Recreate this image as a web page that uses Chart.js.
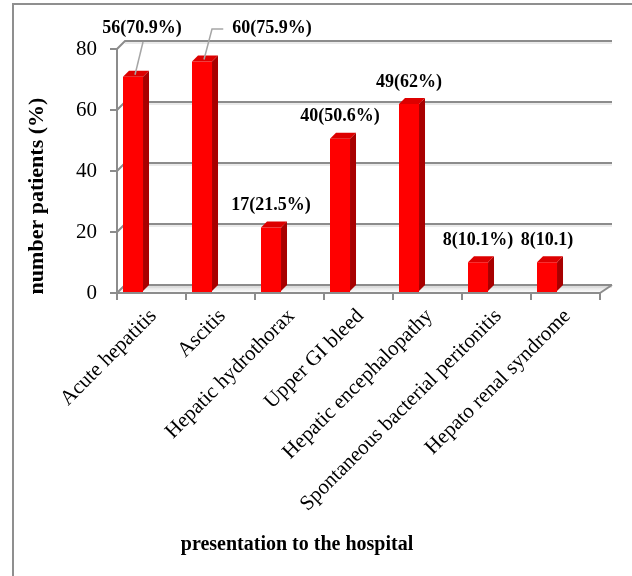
<!DOCTYPE html>
<html><head><meta charset="utf-8">
<script src="https://cdn.jsdelivr.net/npm/chart.js@4"></script>
<style>html,body{margin:0;padding:0;background:#fff}#wrap{width:632px;height:576px}</style>
</head><body><div id="wrap"><canvas id="c" width="632" height="576"></canvas></div>
<script>
const categories = ['Acute hepatitis','Ascitis','Hepatic hydrothorax','Upper GI bleed','Hepatic encephalopathy','Spontaneous bacterial peritonitis','Hepato renal syndrome'];
const percentages = [70.9, 75.9, 21.5, 50.6, 62, 10.1, 10.1];
const counts = [56, 60, 17, 40, 49, 8, 8];
const valueLabels = ['56(70.9%)','60(75.9%)','17(21.5%)','40(50.6%)','49(62%)','8(10.1%)','8(10.1)'];
const yTickValues = [0, 20, 40, 60, 80];
const xTitle = 'presentation to the hospital';
const yTitle = 'number patients (%)';

const SERIF = '"Liberation Serif", "Times New Roman", serif';
const GRID = '#8c8c8c';
const DEPTH_L = 8, DEPTH_R = 12, DEPTH_Y = 8;   // back wall offset
const BAR_D = 6;                                 // bar depth

const threeD = {
  id: 'threeD',
  beforeDraw(chart) {
    const ctx = chart.ctx;
    ctx.save();
    ctx.fillStyle = '#fff';
    ctx.fillRect(0, 0, chart.width, chart.height);
    ctx.strokeStyle = '#8f8f8f';
    ctx.lineWidth = 2;
    ctx.strokeRect(13, 4, chart.width + 20, chart.height + 20);
    ctx.restore();
  },
  beforeDatasetsDraw(chart) {
    const ctx = chart.ctx, ys = chart.scales.y, a = chart.chartArea;
    const L = a.left, R = a.right;
    ctx.save();
    const y0 = ys.getPixelForValue(0);
    const g = ctx.createLinearGradient(0, y0 - DEPTH_Y, 0, y0);
    g.addColorStop(0, '#d9d9d9'); g.addColorStop(1, '#ffffff');
    ctx.fillStyle = g;
    ctx.beginPath();
    ctx.moveTo(L + DEPTH_L, y0 - DEPTH_Y); ctx.lineTo(R + DEPTH_R, y0 - DEPTH_Y);
    ctx.lineTo(R, y0 - 1); ctx.lineTo(L, y0 - 1); ctx.closePath(); ctx.fill();
    yTickValues.forEach(v => {
      const y = ys.getPixelForValue(v);
      ctx.strokeStyle = '#d6d6d6'; ctx.lineWidth = 1;
      ctx.beginPath();
      ctx.moveTo(L + DEPTH_L, y - DEPTH_Y + 2); ctx.lineTo(R + DEPTH_R, y - DEPTH_Y + 2);
      ctx.stroke();
      ctx.strokeStyle = GRID; ctx.lineWidth = 2;
      ctx.beginPath();
      ctx.moveTo(L, y); ctx.lineTo(L + DEPTH_L, y - DEPTH_Y); ctx.lineTo(R + DEPTH_R, y - DEPTH_Y);
      ctx.stroke();
    });
    ctx.beginPath();
    ctx.moveTo(R, y0); ctx.lineTo(R + DEPTH_R, y0 - DEPTH_Y);
    ctx.stroke();
    ctx.restore();
    const xs = chart.scales.x;
    const step = xs.getPixelForValue(1) - xs.getPixelForValue(0);
    chart.$barShift = -0.268 * step;
    ctx.save();
    ctx.translate(chart.$barShift, 0);
  },
  afterDatasetsDraw(chart) {
    const ctx = chart.ctx;
    const meta = chart.getDatasetMeta(0);
    meta.data.forEach(bar => {
      const {x, y, base, width} = bar.getProps(['x', 'y', 'base', 'width'], true);
      const l = x - width / 2, r = x + width / 2;
      ctx.fillStyle = '#a80000';
      ctx.beginPath();
      ctx.moveTo(r, y); ctx.lineTo(r + BAR_D, y - BAR_D); ctx.lineTo(r + BAR_D, base - BAR_D - 1);
      ctx.lineTo(r, base - 1); ctx.closePath(); ctx.fill();
      ctx.fillStyle = '#dd0000';
      ctx.beginPath();
      ctx.moveTo(l, y); ctx.lineTo(l + BAR_D, y - BAR_D); ctx.lineTo(r + BAR_D, y - BAR_D);
      ctx.lineTo(r, y); ctx.closePath(); ctx.fill();
    });
    ctx.restore();
    const shift = chart.$barShift;
    const a = chart.chartArea;
    const callouts = chart.options.plugins.threeD.callouts;
    ctx.save();
    ctx.font = 'bold 18px ' + SERIF;
    ctx.fillStyle = '#000';
    ctx.textAlign = 'center';
    ctx.textBaseline = 'middle';
    meta.data.forEach((bar, i) => {
      const x = bar.x + shift, y = bar.y;
      const c = callouts[i];
      if (c) {
        const lx = x + c.dx, ly = a.top - 21;
        const tw = ctx.measureText(valueLabels[i]).width;
        ctx.strokeStyle = '#a6a6a6'; ctx.lineWidth = 1.5;
        ctx.beginPath();
        ctx.moveTo(x + 2, y - 2);
        if (c.elbow) {
          ctx.lineTo(x + 10, ly + 1); ctx.lineTo(lx - tw / 2 - 9, ly + 1);
        } else {
          ctx.lineTo(x + 10, ly + 14);
        }
        ctx.stroke();
        ctx.fillText(valueLabels[i], lx, ly);
      } else {
        ctx.fillText(valueLabels[i], x, y - 22);
      }
    });
    ctx.restore();
    ctx.save();
    ctx.fillStyle = '#000';
    ctx.font = 'bold 20px ' + SERIF;
    ctx.textAlign = 'center'; ctx.textBaseline = 'middle';
    ctx.fillText(xTitle, 297, 545);
    ctx.translate(37, 196);
    ctx.rotate(-Math.PI / 2);
    ctx.font = 'bold 22px ' + SERIF;
    ctx.fillText(yTitle, 0, 0);
    ctx.restore();
  }
};

new Chart(document.getElementById('c'), {
  type: 'bar',
  data: {
    labels: categories,
    datasets: [{
      label: 'patients (%)',
      data: percentages,
      backgroundColor: '#ff0000',
      borderWidth: 0,
      barPercentage: 0.29,
      categoryPercentage: 1
    }]
  },
  options: {
    responsive: false,
    animation: false,
    devicePixelRatio: 1,
    layout: { padding: { top: 49, right: 32, left: 0, bottom: 0 } },
    plugins: {
      legend: { display: false },
      tooltip: { enabled: false },
      threeD: { callouts: { 0: { dx: 9, elbow: false }, 1: { dx: 70, elbow: true } } }
    },
    scales: {
      x: {
        afterFit(s) { s.height = 283; },
        grid: { offset: true, drawOnChartArea: false, drawTicks: true, tickLength: 7, color: GRID, lineWidth: 2 },
        border: { display: true, color: GRID, width: 2 },
        ticks: { minRotation: 45, maxRotation: 45, autoSkip: false, color: '#000', padding: 4, labelOffset: 2,
                 font: { family: SERIF, size: 21 } }
      },
      y: {
        min: 0, max: 80,
        afterFit(s) { s.width = 117; },
        afterBuildTicks(s) { s.ticks = yTickValues.map(v => ({ value: v })); },
        grid: { drawOnChartArea: false, drawTicks: true, tickLength: 7, color: GRID, lineWidth: 2 },
        border: { display: true, color: GRID, width: 2 },
        ticks: { color: '#000', padding: 13, font: { family: SERIF, size: 21 } }
      }
    }
  },
  plugins: [threeD]
});
</script>
</body></html>
